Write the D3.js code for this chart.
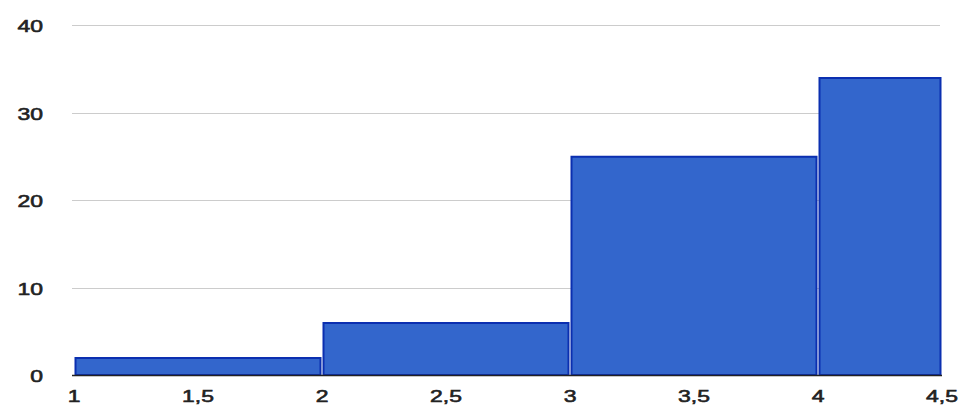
<!DOCTYPE html>
<html>
<head>
<meta charset="utf-8">
<script src="https://cdn.jsdelivr.net/npm/d3@7"></script>
<style>
  body { margin: 0; background: #fff; }
  svg text { font-family: "Liberation Sans", Arial, sans-serif; }
</style>
</head>
<body>
<svg id="chart" width="962" height="406"></svg>
<script>
'use strict';

// Histogram bins: [start, end) and count
const binStarts = [1, 2, 3, 4];
const binEnds   = [2, 3, 4, 4.5];
const counts    = [2, 6, 25, 34];

const xTicks = [1, 1.5, 2, 2.5, 3, 3.5, 4, 4.5];
const yTicks = [0, 10, 20, 30, 40];

const FILL   = '#3366cc';
const STROKE = '#0b2fb0';
const TEXT   = '#222222';
const STRETCH = 1.35;   // source image is stretched horizontally

const margin = { top: 25, right: 20, bottom: 31, left: 74 };
const width  = 962;
const height = 406;

const svg = d3.select('#chart');

const x = d3.scaleLinear()
  .domain([1, 4.5])
  .range([margin.left, width - margin.right]);

const y = d3.scaleLinear()
  .domain([0, 40])
  .range([height - margin.bottom, margin.top]);

const fmt = d => String(d).replace('.', ',');

// ── Gridlines ────────────────────────────────────────────────
svg.append('g')
  .selectAll('line')
  .data(yTicks.filter(d => d > 0))
  .join('line')
    .attr('x1', x(1) - 2)
    .attr('x2', x(4.5) - 2)
    .attr('y1', d => Math.round(y(d)) + 0.5)
    .attr('y2', d => Math.round(y(d)) + 0.5)
    .attr('stroke', '#cccccc')
    .attr('stroke-width', 1);

// ── Y labels ─────────────────────────────────────────────────
svg.append('g')
  .selectAll('text')
  .data(yTicks)
  .join('text')
    .attr('transform', d => `translate(43,${y(d) + 7}) scale(${STRETCH},1)`)
    .attr('text-anchor', 'end')
    .attr('font-size', 17)
    .attr('fill', TEXT)
    .attr('stroke', TEXT)
    .attr('stroke-width', 0.6)
    .text(d => d);

// ── Bars ─────────────────────────────────────────────────────
const bins = counts.map((c, i) => ({ x0: binStarts[i], x1: binEnds[i], count: c }));

svg.append('g')
  .selectAll('rect')
  .data(bins)
  .join('rect')
    .attr('x', d => x(d.x0) + 1.5)
    .attr('width', d => x(d.x1) - x(d.x0) - 3)
    .attr('y', d => y(d.count) + 0.5)
    .attr('height', d => y(0) - y(d.count) - 0.5)
    .attr('fill', FILL)
    .attr('stroke', STROKE)
    .attr('stroke-width', 2);

// ── Baseline ─────────────────────────────────────────────────
svg.append('line')
  .attr('x1', x(1) - 2)
  .attr('x2', x(4.5))
  .attr('y1', y(0) + 0.5)
  .attr('y2', y(0) + 0.5)
  .attr('stroke', '#222')
  .attr('stroke-width', 1.5);

// ── X labels ─────────────────────────────────────────────────
svg.append('g')
  .selectAll('text')
  .data(xTicks)
  .join('text')
    .attr('transform', d => `translate(${x(d)},402) scale(${STRETCH},1)`)
    .attr('text-anchor', 'middle')
    .attr('font-size', 17)
    .attr('fill', TEXT)
    .attr('stroke', TEXT)
    .attr('stroke-width', 0.6)
    .text(fmt);
</script>
</body>
</html>
